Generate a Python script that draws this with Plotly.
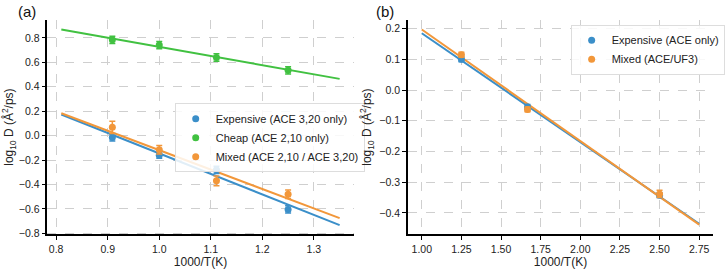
import plotly.graph_objects as go

# ---------------- data: panel (a) ----------------
a_x = [0.909, 1.0, 1.111, 1.25]
a_exp_y = [-0.015, -0.160, -0.280, -0.605]
a_exp_err = [0.03, 0.025, 0.03, 0.03]
a_cheap_y = [0.785, 0.742, 0.640, 0.535]
a_cheap_err = [0.03, 0.03, 0.03, 0.03]
a_mix_y = [0.068, -0.115, -0.370, -0.480]
a_mix_err = [0.05, 0.035, 0.04, 0.035]
a_fit_x = [0.81, 1.35]
a_exp_fit = [0.173, -0.733]
a_cheap_fit = [0.869, 0.465]
a_mix_fit = [0.183, -0.676]

# ---------------- data: panel (b) ----------------
b_x = [1.25, 1.667, 2.5]
b_exp_y = [0.100, -0.055, -0.342]
b_exp_err = [0.008, 0.008, 0.008]
b_mix_y = [0.115, -0.063, -0.338]
b_mix_err = [0.008, 0.008, 0.012]
b_fit_x = [1.0, 2.75]
b_exp_fit = [0.185, -0.435]
b_mix_fit = [0.197, -0.438]

a_xticks = [0.8, 0.9, 1.0, 1.1, 1.2, 1.3]
a_yticks = [-0.8, -0.6, -0.4, -0.2, 0.0, 0.2, 0.4, 0.6, 0.8]
b_xticks = [1.0, 1.25, 1.5, 1.75, 2.0, 2.25, 2.5, 2.75]
b_yticks = [-0.4, -0.3, -0.2, -0.1, 0.0, 0.1, 0.2]

BLUE = "#3b8fc9"
GREEN = "#41c141"
ORANGE = "#f2973a"
FONT = "Liberation Sans"

fig = go.Figure()


def add_fit(x, y, color, xa, ya):
    fig.add_trace(go.Scatter(x=x, y=y, mode="lines", line=dict(color=color, width=2),
                             showlegend=False, xaxis=xa, yaxis=ya, hoverinfo="skip"))


def add_pts(x, y, err, color, name, xa, ya, legend):
    fig.add_trace(go.Scatter(x=x, y=y, mode="markers", name=name,
                             marker=dict(color=color, size=7, symbol="circle"),
                             error_y=dict(type="data", array=err, color=color, thickness=1.5, width=3),
                             xaxis=xa, yaxis=ya, legend=legend))


# panel (a): lines first, then points
add_fit(a_fit_x, a_cheap_fit, GREEN, "x", "y")
add_fit(a_fit_x, a_exp_fit, BLUE, "x", "y")
add_fit(a_fit_x, a_mix_fit, ORANGE, "x", "y")
add_pts(a_x, a_exp_y, a_exp_err, BLUE, "Expensive (ACE 3,20 only)", "x", "y", "legend")
add_pts(a_x, a_cheap_y, a_cheap_err, GREEN, "Cheap (ACE 2,10 only)", "x", "y", "legend")
add_pts(a_x, a_mix_y, a_mix_err, ORANGE, "Mixed (ACE 2,10 / ACE 3,20)", "x", "y", "legend")

# panel (b)
add_fit(b_fit_x, b_exp_fit, BLUE, "x2", "y2")
add_fit(b_fit_x, b_mix_fit, ORANGE, "x2", "y2")
add_pts(b_x, b_exp_y, b_exp_err, BLUE, "Expensive (ACE only)", "x2", "y2", "legend2")
add_pts(b_x, b_mix_y, b_mix_err, ORANGE, "Mixed (ACE/UF3)", "x2", "y2", "legend2")

axis_common = dict(
    showline=True, linecolor="black", linewidth=1.5, mirror=False,
    ticks="outside", ticklen=4, tickwidth=1, tickcolor="black",
    showgrid=True, gridcolor="#cfcfcf", griddash="dash", gridwidth=1,
    zeroline=False, tickfont=dict(family=FONT, size=10.5, color="#222"),
)
title_font = dict(family=FONT, size=12, color="#222")
ytitle = "log<sub>10</sub> D (Å<sup>2</sup>/ps)"

ydom = [0.1152, 0.9257]
fig.update_layout(
    width=725, height=269,
    margin=dict(l=0, r=0, t=0, b=0),
    paper_bgcolor="white", plot_bgcolor="white",
    font=dict(family=FONT, size=11, color="#222"),
    xaxis=dict(domain=[0.0662, 0.4938], range=[0.783, 1.377], tickvals=a_xticks,
               tickformat=".1f", anchor="y",
               title=dict(text="1000/T(K)", font=title_font, standoff=2), **axis_common),
    yaxis=dict(domain=ydom, range=[-0.81, 0.95], tickvals=a_yticks, tickformat=".1f",
               anchor="x", title=dict(text=ytitle, font=title_font, standoff=5), **axis_common),
    xaxis2=dict(domain=[0.5697, 0.9959], range=[0.9125, 2.8375], tickvals=b_xticks,
                tickformat=".2f", anchor="y2",
                title=dict(text="1000/T(K)", font=title_font, standoff=2), **axis_common),
    yaxis2=dict(domain=ydom, range=[-0.47, 0.229], tickvals=b_yticks, tickformat=".1f",
                anchor="x2", title=dict(text=ytitle, font=title_font, standoff=5), **axis_common),
    legend=dict(x=0.244, y=0.61, xanchor="left", yanchor="top",
                bgcolor="rgba(255,255,255,0.85)", bordercolor="#dddddd", borderwidth=1,
                font=dict(family=FONT, size=11, color="#222"), itemwidth=30,
                tracegroupgap=0),
    legend2=dict(x=0.797, y=0.907, xanchor="left", yanchor="top",
                 bgcolor="rgba(255,255,255,0.85)", bordercolor="#dddddd", borderwidth=1,
                 font=dict(family=FONT, size=11, color="#222"), itemwidth=30,
                 tracegroupgap=0),
    annotations=[
        dict(text="(a)", x=0.022, y=0.995, xref="paper", yref="paper", xanchor="left",
             yanchor="top", showarrow=False, font=dict(family=FONT, size=15, color="#111")),
        dict(text="(b)", x=0.523, y=0.995, xref="paper", yref="paper", xanchor="left",
             yanchor="top", showarrow=False, font=dict(family=FONT, size=15, color="#111")),
    ],
)

fig.write_html("out.html")
